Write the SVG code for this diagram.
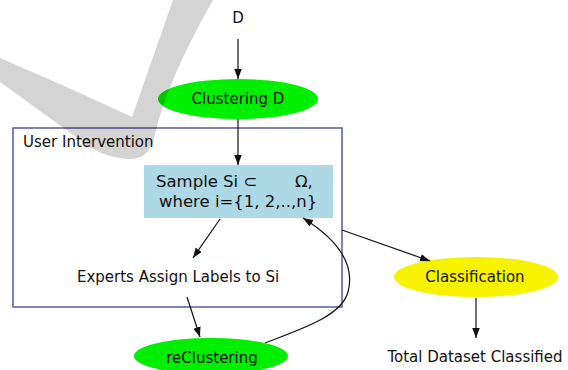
<svg xmlns="http://www.w3.org/2000/svg" width="568" height="370" viewBox="0 0 568 370">
<style>
text{font-family:"DejaVu Sans","Liberation Sans",sans-serif;font-size:15px;fill:#111;}
.c{text-anchor:middle;}
.edge{fill:none;stroke:#111;stroke-width:1.2;}
.green{fill:#00ee00;}
.yellow{fill:#f6f200;}
</style>
<defs>
<marker id="ah" markerUnits="userSpaceOnUse" markerWidth="11" markerHeight="8" refX="10" refY="3.75" orient="auto">
<path d="M0,0 L10,3.75 L0,7.5 z" fill="#111"/>
</marker>
</defs>
<rect width="568" height="370" fill="#fff"/>
<g id="cluster">
<rect x="13" y="128" width="329" height="179" fill="none" stroke="#5a5a9e" stroke-width="1.5"/>
<text x="23" y="147">User Intervention</text>
</g>
<g id="nD"><text class="c" x="238" y="23">D</text></g>
<g id="nClusteringD">
<ellipse class="green" cx="238" cy="99" rx="80" ry="20"/>
<text class="c" x="238" y="104">Clustering D</text>
</g>
<g id="nSample">
<rect x="144" y="165" width="189" height="53" fill="#add8e6"/>
<text style="font-size:16.5px" x="156" y="187">Sample Si ⊂<tspan x="295">Ω,</tspan></text>
<text style="font-size:16.5px" x="159" y="207">where i={1, 2,..,n}</text>
</g>
<g id="nExperts"><text class="c" x="178" y="282">Experts Assign Labels to Si</text></g>
<g id="nReClustering">
<ellipse class="green" cx="211" cy="356" rx="77" ry="18"/>
<text class="c" x="212" y="363">reClustering</text>
</g>
<g id="nClassification">
<ellipse class="yellow" cx="476" cy="277" rx="82" ry="20"/>
<text class="c" x="475" y="282">Classification</text>
</g>
<g id="nTotal"><text class="c" x="475" y="362">Total Dataset Classified</text></g>
<g id="edges">
<path class="edge" marker-end="url(#ah)" d="M238,39 L238,79"/>
<path class="edge" marker-end="url(#ah)" d="M238,119 L238,165"/>
<path class="edge" marker-end="url(#ah)" d="M220,219 L193,258"/>
<path class="edge" marker-end="url(#ah)" d="M187,297 L200,337"/>
<path class="edge" marker-end="url(#ah)" d="M265,343 C305,328 342,315 348,292 C356,262 335,238 303,218"/>
<path class="edge" marker-end="url(#ah)" d="M342,230 L430,261"/>
<path class="edge" marker-end="url(#ah)" d="M476,298 L476,338"/>
</g>
<path id="watermark" fill="#000" fill-opacity="0.17" d="M0,58 Q70,88 132,117 L173,0 L213,0 Q165,85 155,135 Q150,160 128,159 Q100,157 80,140 L0,82 Z"/>
</svg>
